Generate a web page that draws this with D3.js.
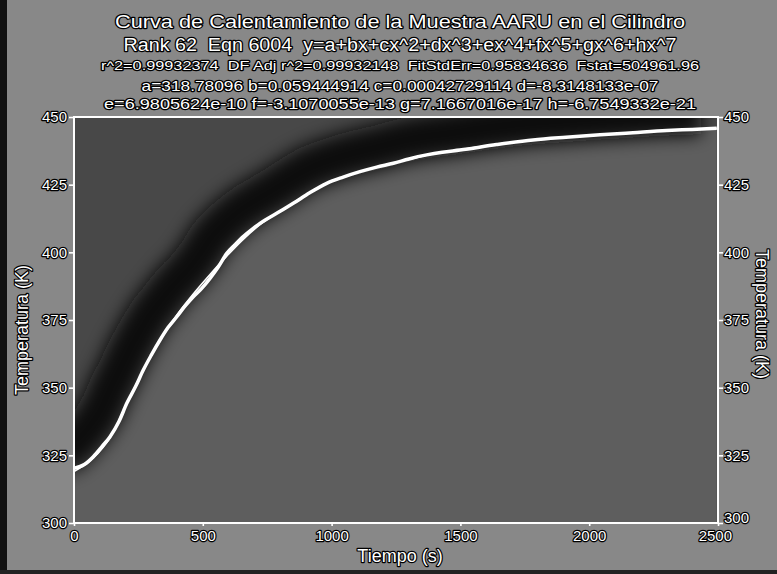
<!DOCTYPE html>
<html>
<head>
<meta charset="utf-8">
<script src="https://cdn.jsdelivr.net/npm/d3@7"></script>
<style>
  html, body { margin: 0; padding: 0; background: #8c8c8c; }
  svg text { font-family: "Liberation Sans", Arial, sans-serif; fill: #fff; white-space: pre;
             stroke: #000; stroke-width: 2.4px; paint-order: stroke; stroke-linejoin: round; }
</style>
</head>
<body>
<svg id="chart" width="777" height="574"></svg>
<script>
// Heating curve of sample AARU in the cylinder: measured temperature vs time
const timeS = [0, 40, 75, 110, 140, 175, 205, 240, 269, 300, 334, 365, 399, 430, 463, 495, 528, 560, 593,
               625, 657, 690, 722, 790, 851, 915, 981, 1045, 1110, 1175, 1240, 1300, 1369, 1430, 1498,
               1640, 1782, 1910, 2042, 2170, 2301, 2400, 2495];
const tempK = [320.2, 321.6, 324.5, 328.4, 331.9, 337.6, 344.2, 350.6, 356.5, 362.0, 367.6, 372.2, 376.2,
               380.0, 383.6, 386.6, 390.4, 394.6, 399.6, 402.8, 405.8, 408.4, 410.7, 414.6, 418.1, 422.0,
               425.5, 427.8, 429.8, 431.5, 432.9, 434.5, 436.0, 437.0, 437.8, 439.8, 441.5, 442.5, 443.4,
               444.2, 445.0, 445.4, 445.8];
// Fitted polynomial curve (Eqn 6004), read at coarser steps
const fitTimeS = [0, 75, 140, 205, 269, 334, 399, 463, 528, 593, 657, 722, 851, 981, 1110, 1240, 1369, 1498,
                  1782, 2042, 2301, 2495];
const fitTempK = [319.0, 324.0, 331.6, 344.0, 356.5, 367.8, 376.8, 384.6, 391.8, 398.6, 404.8, 410.2, 418.2,
                  425.4, 429.8, 432.9, 435.9, 437.9, 441.5, 443.4, 445.0, 445.8];

const xTicks = [0, 500, 1000, 1500, 2000, 2500];
const yTicks = [300, 325, 350, 375, 400, 425, 450];

const titleLines = [
  "Curva de Calentamiento de la Muestra AARU en el Cilindro",
  "Rank 62  Eqn 6004  y=a+bx+cx^2+dx^3+ex^4+fx^5+gx^6+hx^7",
  "r^2=0.99932374  DF Adj r^2=0.99932148  FitStdErr=0.95834636  Fstat=504961.96",
  "a=318.78096 b=0.059444914 c=0.00042729114 d=-8.3148133e-07",
  "e=6.9805624e-10 f=-3.1070055e-13 g=7.1667016e-17 h=-6.7549332e-21"
];

const svg = d3.select("#chart");
const W = 777, H = 574;
const m = { left: 74, right: 718, top: 117, bottom: 523 };

const x = d3.scaleLinear().domain([0, 2500]).range([m.left, m.right]);
const y = d3.scaleLinear().domain([300, 450]).range([m.bottom, m.top]);

// page background and dark outer edge
svg.append("rect").attr("width", W).attr("height", H).attr("fill", "#888");
svg.append("rect").attr("x", 0).attr("y", 0).attr("width", 7).attr("height", H).attr("fill", "#111");
svg.append("rect").attr("x", 0).attr("y", H - 4).attr("width", W).attr("height", 4).attr("fill", "#222");

const defs = svg.append("defs");
defs.append("clipPath").attr("id", "plotClip")
  .append("rect").attr("x", m.left).attr("y", m.top)
  .attr("width", m.right - m.left).attr("height", m.bottom - m.top);
defs.append("filter").attr("id", "soft").attr("x", "-20%").attr("y", "-20%")
  .attr("width", "140%").attr("height", "140%")
  .append("feGaussianBlur").attr("stdDeviation", 9);

const plot = svg.append("g").attr("clip-path", "url(#plotClip)");
plot.append("rect").attr("x", m.left).attr("y", m.top)
  .attr("width", m.right - m.left).attr("height", m.bottom - m.top).attr("fill", "#484848");

const pts = timeS.map((t, i) => [t, tempK[i]]);

// lighter field below the curve
plot.append("path").datum(pts)
  .attr("d", d3.area().x(d => x(d[0])).y0(m.bottom).y1(d => y(d[1])).curve(d3.curveMonotoneX))
  .attr("fill", "#5e5e5e");

// dark shadow along the upper side of the curve
const line = d3.line().x(d => x(d[0])).y(d => y(d[1])).curve(d3.curveMonotoneX);
plot.append("path").datum(pts).attr("d", line)
  .attr("transform", "translate(-16,-16)")
  .attr("fill", "none").attr("stroke", "#0a0a0a").attr("stroke-width", 44)
  .attr("stroke-linejoin", "round").attr("filter", "url(#soft)");

// measured data
plot.append("path").datum(pts).attr("d", line)
  .attr("fill", "none").attr("stroke", "#fff").attr("stroke-width", 3.5)
  .attr("stroke-linejoin", "round");

// fitted curve
plot.append("path").datum(fitTimeS.map((t, i) => [t, fitTempK[i]])).attr("d", line)
  .attr("fill", "none").attr("stroke", "#fff").attr("stroke-width", 1.6);

// frame
svg.append("rect").attr("x", m.left).attr("y", m.top)
  .attr("width", m.right - m.left).attr("height", m.bottom - m.top)
  .attr("fill", "none").attr("stroke", "#fff").attr("stroke-width", 2);

// axes
const styleAxis = g => {
  g.select(".domain").remove();
  g.selectAll(".tick line").attr("stroke", "#fff").attr("stroke-width", 1.6);
  g.selectAll(".tick text").attr("font-size", 15).attr("fill", "#fff");
};
svg.append("g").attr("transform", `translate(${m.left},0)`)
  .call(d3.axisLeft(y).tickValues(yTicks).tickSize(5).tickPadding(2).tickFormat(d3.format("d")))
  .call(styleAxis);
svg.append("g").attr("transform", `translate(${m.right},0)`)
  .call(d3.axisRight(y).tickValues(yTicks).tickSize(5).tickPadding(1).tickFormat(d3.format("d")))
  .call(styleAxis)
  .call(g => g.selectAll(".tick").filter(d => d === 300).select("text").attr("dy", "-0.05em"));
svg.append("g").attr("transform", `translate(0,${m.bottom})`)
  .call(d3.axisBottom(x).tickValues(xTicks).tickSize(3).tickPadding(4).tickFormat(d3.format("d")))
  .call(styleAxis)
  .call(g => g.selectAll(".tick").filter(d => d === 2500).select("text").attr("text-anchor", "end").attr("dx", "0.9em"));

// axis titles
svg.append("text").attr("x", 400).attr("y", 562)
  .attr("text-anchor", "middle").attr("font-size", 18).text("Tiempo (s)");
svg.append("text").attr("transform", `translate(28,330) rotate(-90)`)
  .attr("text-anchor", "middle").attr("font-size", 18).text("Temperatura (K)");
svg.append("text").attr("transform", `translate(756,314) rotate(90)`)
  .attr("text-anchor", "middle").attr("font-size", 18).text("Temperatura (K)");

// title block
const titleY = [28, 51, 70, 91, 109];
const titleSize = [19, 18, 13, 14, 14];
const titleWidth = [570, 553, 598, 517, 592];
titleLines.forEach((s, i) => {
  svg.append("text").attr("x", 400).attr("y", titleY[i])
    .attr("text-anchor", "middle").attr("font-size", titleSize[i])
    .attr("textLength", titleWidth[i]).attr("lengthAdjust", "spacingAndGlyphs")
    .text(s);
});
</script>
</body>
</html>
